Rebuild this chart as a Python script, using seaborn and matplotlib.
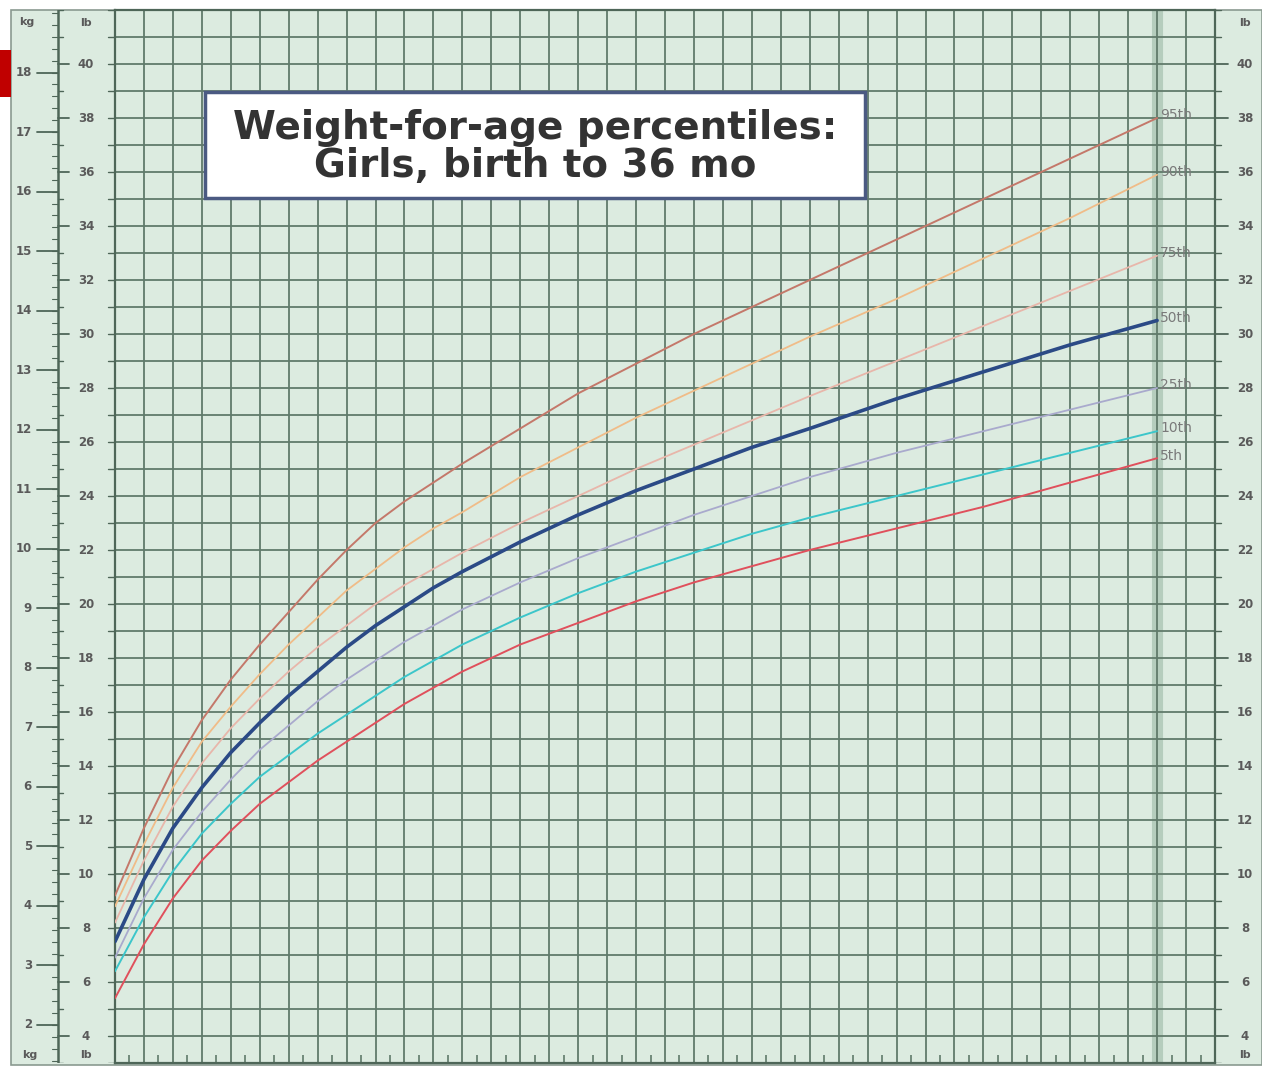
import numpy as np
import pandas as pd
import matplotlib
matplotlib.use('Agg')
import matplotlib.pyplot as plt
from matplotlib.patches import Rectangle
import seaborn as sns

# age in months and weight (lb) for each percentile curve
months = [0, 1, 2, 3, 4, 5, 6, 7, 8, 9, 10, 11, 12, 14, 16, 18, 20, 22, 24, 27, 30, 33, 36]
p95 = [9.2, 11.7, 13.9, 15.7, 17.2, 18.5, 19.7, 20.9, 22.0, 23.0, 23.8, 24.5, 25.2, 26.5, 27.8, 28.9, 30.0, 31.0, 32.0, 33.5, 35.0, 36.5, 38.0]
p90 = [8.8, 11.1, 13.2, 14.9, 16.2, 17.4, 18.5, 19.5, 20.5, 21.3, 22.1, 22.8, 23.4, 24.7, 25.8, 26.9, 27.9, 28.9, 29.9, 31.3, 32.8, 34.3, 35.9]
p75 = [8.2, 10.5, 12.5, 14.1, 15.4, 16.5, 17.5, 18.4, 19.2, 20.0, 20.7, 21.3, 21.9, 23.0, 24.0, 25.0, 25.9, 26.8, 27.7, 29.0, 30.3, 31.6, 32.9]
p50 = [7.5, 9.8, 11.7, 13.2, 14.5, 15.6, 16.6, 17.5, 18.4, 19.2, 19.9, 20.6, 21.2, 22.3, 23.3, 24.2, 25.0, 25.8, 26.5, 27.6, 28.6, 29.6, 30.5]
p25 = [6.9, 9.1, 10.9, 12.3, 13.5, 14.6, 15.5, 16.4, 17.2, 17.9, 18.6, 19.2, 19.8, 20.8, 21.7, 22.5, 23.3, 24.0, 24.7, 25.6, 26.4, 27.2, 28.0]
p10 = [6.4, 8.4, 10.1, 11.5, 12.6, 13.6, 14.4, 15.2, 15.9, 16.6, 17.3, 17.9, 18.5, 19.5, 20.4, 21.2, 21.9, 22.6, 23.2, 24.0, 24.8, 25.6, 26.4]
p05 = [5.4, 7.4, 9.1, 10.5, 11.6, 12.6, 13.4, 14.2, 14.9, 15.6, 16.3, 16.9, 17.5, 18.5, 19.3, 20.1, 20.8, 21.4, 22.0, 22.8, 23.6, 24.5, 25.4]

pct_names = ['95th', '90th', '75th', '50th', '25th', '10th', '5th']
pct_values = [p95, p90, p75, p50, p25, p10, p05]
pct_colors = ['#c4786a', '#f0bc88', '#e8b6aa', '#2b4a86', '#a9aacd', '#3cc6ca', '#e0505c']
pct_widths = [1.4, 1.3, 1.3, 2.6, 1.3, 1.4, 1.4]

lb_labels = list(range(4, 42, 2))
kg_labels = list(range(2, 19))
title_lines = ['Weight-for-age percentiles:', 'Girls, birth to 36 mo']

rows = []
for name, vals in zip(pct_names, pct_values):
    for m, v in zip(months, vals):
        rows.append({'month': m, 'weight': v, 'pct': name})
df = pd.DataFrame(rows)

MINT = '#dcebe0'
GRID = '#607b6b'
LINE = '#4e6658'
TXT = '#5a5a5a'
W, H = 1262, 1069

sns.set_style('white')
plt.rcParams['font.family'] = ['DejaVu Sans']

fig = plt.figure(figsize=(W / 100, H / 100), dpi=100)
fig.patch.set_facecolor('white')
bg = Rectangle((11 / W, 1 - 1065 / H), (W - 11) / W, 1055 / H,
               transform=fig.transFigure, facecolor=MINT,
               edgecolor='#8a9a90', lw=1.2, zorder=-5)
fig.patches.append(bg)
fig.patches.append(Rectangle((0, 1 - 97 / H), 11 / W, 47 / H,
                             transform=fig.transFigure, facecolor='#c00000',
                             edgecolor='none', zorder=-4))

ymin, ymax = 3, 42
bottom = 1 - 1063 / H
height = 1053 / H

# main chart
ax = fig.add_axes([115 / W, bottom, 1100 / W, height])
ax.set_facecolor(MINT)
ax.set_xlim(0, 38)
ax.set_ylim(ymin, ymax)
ax.set_xticks(range(0, 39))
ax.set_yticks(range(ymin, ymax + 1))
ax.set_xticks(np.arange(0.5, 38, 0.5), minor=True)
ax.set_axisbelow(True)
ax.grid(True, which='major', color=GRID, lw=1.3)
ax.tick_params(which='major', length=0, labelbottom=False, labelleft=False)
ax.tick_params(which='minor', axis='x', direction='in', length=6, color=GRID,
               width=1.2, bottom=True, top=False)
for s in ax.spines.values():
    s.set_color(LINE)
    s.set_linewidth(1.6)
ax.axvline(36, color='#b5cdbd', lw=8, zorder=0.3)

sns.lineplot(data=df, x='month', y='weight', hue='pct', size='pct',
             palette=dict(zip(pct_names, pct_colors)),
             sizes=dict(zip(pct_names, pct_widths)),
             hue_order=pct_names[::-1], legend=False, sort=False, ax=ax, zorder=3)
ax.set_xlabel('')
ax.set_ylabel('')

for name, vals in zip(pct_names, pct_values):
    ax.text(36.1, vals[-1] + 0.1, name, fontsize=10, color='#7a7a7a',
            va='center', ha='left', zorder=4)

# title box
ax.add_patch(Rectangle((0.0818, 0.8215), 0.6, 0.1005, transform=ax.transAxes,
                       facecolor='white', edgecolor='#4b5a82', lw=2.5, zorder=5))
ax.text(0.382, 0.888, title_lines[0], transform=ax.transAxes, ha='center',
        va='center', fontsize=28, fontweight='bold', color='#333333', zorder=6)
ax.text(0.382, 0.852, title_lines[1], transform=ax.transAxes, ha='center',
        va='center', fontsize=28, fontweight='bold', color='#333333', zorder=6)

# left scale (kg and lb)
axl = fig.add_axes([11 / W, bottom, 104 / W, height])
axl.set_xlim(11, 115)
axl.set_ylim(ymin, ymax)
axl.axis('off')
axl.plot([58, 58], [ymin, ymax], color=LINE, lw=1.8)
for lb in range(ymin, ymax + 1):
    if lb in lb_labels:
        axl.plot([58, 69], [lb, lb], color=LINE, lw=1.3)
        axl.text(86, lb, str(lb), ha='center', va='center', fontsize=8.5,
                 color=TXT, fontweight='bold')
    else:
        axl.plot([58, 63], [lb, lb], color=LINE, lw=1.0)
    axl.plot([108, 115], [lb, lb], color=LINE, lw=1.0)
for k in np.arange(1.4, 19.1, 0.2):
    axl.plot([52, 58], [k * 2.20462, k * 2.20462], color=LINE, lw=0.8)
for k in kg_labels:
    y = k * 2.20462
    axl.plot([37, 58], [y, y], color=LINE, lw=1.3)
    axl.text(32, y, str(k), ha='right', va='center', fontsize=8.5,
             color=TXT, fontweight='bold')
axl.text(27, 41.55, 'kg', ha='center', va='center', fontsize=8, color=TXT, fontweight='bold')
axl.text(86, 41.5, 'lb', ha='center', va='center', fontsize=8, color=TXT, fontweight='bold')
axl.text(30, 3.3, 'kg', ha='center', va='center', fontsize=8, color=TXT, fontweight='bold')
axl.text(86, 3.3, 'lb', ha='center', va='center', fontsize=8, color=TXT, fontweight='bold')

# right scale (lb)
axr = fig.add_axes([1215 / W, bottom, 47 / W, height])
axr.set_xlim(1215, 1262)
axr.set_ylim(ymin, ymax)
axr.axis('off')
for lb in range(ymin, ymax + 1):
    if lb in lb_labels:
        axr.plot([1215, 1228], [lb, lb], color=LINE, lw=1.3)
        axr.text(1245, lb, str(lb), ha='center', va='center', fontsize=8.5,
                 color=TXT, fontweight='bold')
    else:
        axr.plot([1215, 1221], [lb, lb], color=LINE, lw=1.0)
axr.text(1245, 41.5, 'lb', ha='center', va='center', fontsize=8, color=TXT, fontweight='bold')
axr.text(1245, 3.3, 'lb', ha='center', va='center', fontsize=8, color=TXT, fontweight='bold')

fig.savefig('out.png', dpi=100, facecolor=fig.get_facecolor())
